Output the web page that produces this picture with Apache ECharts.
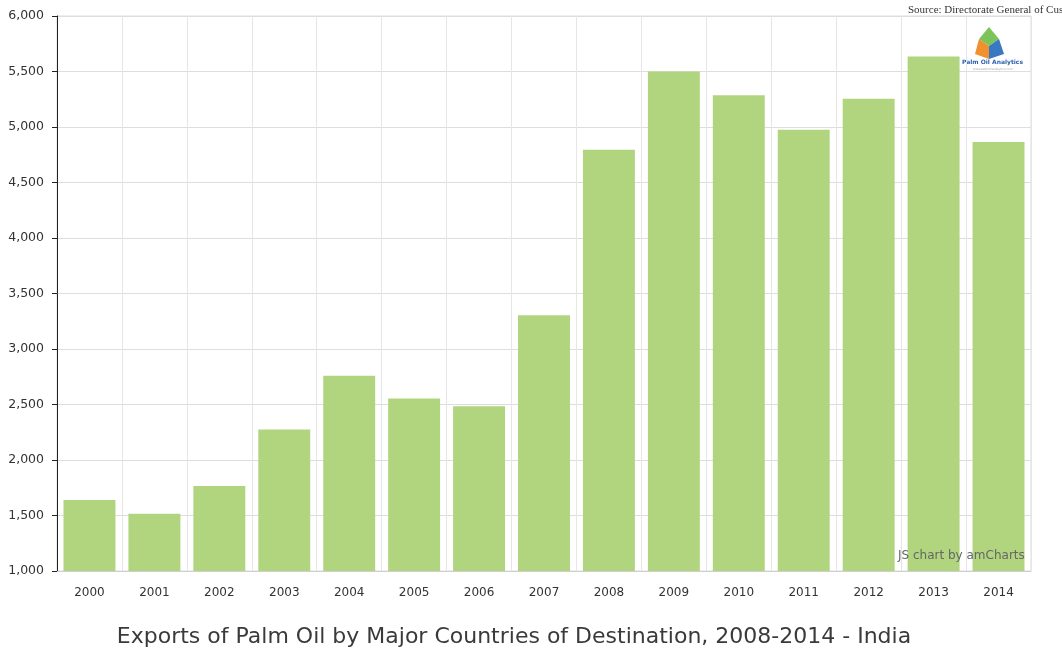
<!DOCTYPE html>
<html>
<head>
<meta charset="utf-8">
<script src="https://cdn.jsdelivr.net/npm/echarts@6/dist/echarts.min.js"></script>
<style>
  html, body { margin: 0; padding: 0; background: #fff; }
  #chart { width: 1062px; height: 652px; }
</style>
</head>
<body>
<div id="chart"></div>
<script>
// Palm oil exports to India, thousand tonnes per year
const years = ['2000', '2001', '2002', '2003', '2004', '2005', '2006', '2007',
               '2008', '2009', '2010', '2011', '2012', '2013', '2014'];
const exportsIndia = [1640, 1515, 1765, 2275, 2760, 2555, 2485, 3305,
                      4795, 5500, 5285, 4975, 5255, 5635, 4865];
const yTicks = { min: 1000, max: 6000, step: 500 };

const titleText = 'Exports of Palm Oil by Major Countries of Destination, 2008-2014 - India';
const sourceText = 'Source: Directorate General of Customs';

const chart = echarts.init(document.getElementById('chart'), null, { renderer: 'canvas' });

chart.setOption({
  animation: false,
  backgroundColor: '#ffffff',
  grid: {
    left: 57, right: 31, top: 16, bottom: 81,
    show: true, borderColor: '#dcdcdc', borderWidth: 1
  },
  xAxis: {
    type: 'category',
    data: years,
    axisLine: { lineStyle: { color: '#cfcfcf' } },
    axisTick: { show: false },
    axisLabel: { color: '#333', fontSize: 12, fontFamily: 'DejaVu Sans', margin: 16 },
    splitLine: { show: true, lineStyle: { color: '#e6e6e6' } }
  },
  yAxis: {
    type: 'value',
    min: yTicks.min, max: yTicks.max, interval: yTicks.step,
    axisLine: { show: true, lineStyle: { color: '#222' } },
    axisTick: { show: true, length: 5, lineStyle: { color: '#222' } },
    axisLabel: {
      color: '#333', fontSize: 12.5, fontFamily: 'DejaVu Sans', margin: 13,
      formatter: v => v.toLocaleString('en-US')
    },
    splitLine: { lineStyle: { color: '#dedede' } }
  },
  series: [{
    type: 'bar',
    data: exportsIndia,
    barCategoryGap: '20%',
    itemStyle: { color: '#b1d47f' }
  }],
  graphic: [
    {
      type: 'text', x: 514, y: 626, z: 100,
      style: { text: titleText, fill: '#3a3a3a', fontSize: 22, fontFamily: 'DejaVu Sans', align: 'center' }
    },
    {
      type: 'text', x: 908, y: 5, z: 100,
      style: { text: sourceText, fill: '#333', fontSize: 11, fontFamily: 'Liberation Serif' }
    },
    {
      type: 'text', x: 898, y: 550, z: 100,
      style: { text: 'JS chart by amCharts', fill: '#666', fontSize: 12, fontFamily: 'DejaVu Sans' }
    },
    {
      // small company logo: three coloured faces above the wordmark
      type: 'group', x: 973, y: 27, z: 100,
      children: [
        { type: 'polygon', shape: { points: [[16, 0], [26, 12], [16, 19], [6, 12]] }, style: { fill: '#7cc35a' } },
        { type: 'polygon', shape: { points: [[6, 12], [16, 19], [16, 32], [2, 27]] }, style: { fill: '#f0902f' } },
        { type: 'polygon', shape: { points: [[16, 19], [26, 12], [31, 27], [16, 32]] }, style: { fill: '#3a78c2' } },
        {
          type: 'text', x: -11, y: 32,
          style: { text: 'Palm Oil Analytics', fill: '#2a5fb0', fontSize: 6, fontWeight: 'bold', fontFamily: 'DejaVu Sans' }
        },
        {
          type: 'text', x: 0, y: 41,
          style: { text: 'www.palmoilanalytics.com', fill: '#aaa', fontSize: 3, fontFamily: 'DejaVu Sans' }
        }
      ]
    }
  ]
});
</script>
</body>
</html>
